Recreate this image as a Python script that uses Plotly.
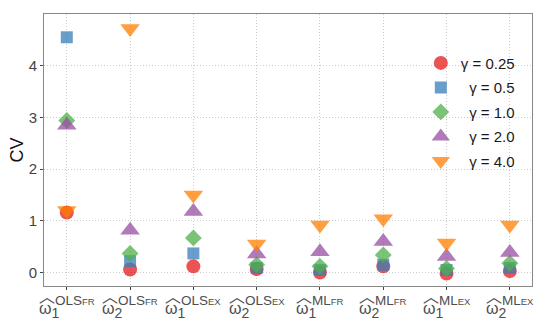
import plotly.graph_objects as go

categories = ["w1_OLS_FR", "w2_OLS_FR", "w1_OLS_EX", "w2_OLS_EX",
              "w1_ML_FR", "w2_ML_FR", "w1_ML_EX", "w2_ML_EX"]
tick_est = ["OLS", "OLS", "OLS", "OLS", "ML", "ML", "ML", "ML"]
tick_sub = ["FR", "FR", "EX", "EX", "FR", "FR", "EX", "EX"]
tick_idx = ["1", "2", "1", "2", "1", "2", "1", "2"]
series_names = ["γ = 0.25", "\u2007γ = 0.5", "\u2007γ = 1.0", "\u2007γ = 2.0", "\u2007γ = 4.0"]
cv_g025 = [1.16, 0.06, 0.12, 0.07, 0.00, 0.12, -0.02, 0.03]
cv_g05 = [4.55, 0.22, 0.37, 0.09, 0.05, 0.15, 0.05, 0.09]
cv_g10 = [2.94, 0.37, 0.67, 0.15, 0.12, 0.34, 0.08, 0.18]
cv_g20 = [2.85, 0.82, 1.18, 0.36, 0.40, 0.60, 0.31, 0.39]
cv_g40 = [1.20, 4.72, 1.50, 0.55, 0.92, 1.04, 0.57, 0.92]
y_ticks = [0, 1, 2, 3, 4]

series_values = [cv_g025, cv_g05, cv_g10, cv_g20, cv_g40]
colors = ["#E41A1C", "#377EB8", "#4DAF4A", "#984EA3", "#FF7F00"]
symbols = ["circle", "square", "diamond", "triangle-up", "triangle-down"]
sizes = [14, 12, 13, 17, 17]

xs = list(range(len(categories)))
fig = go.Figure()
for name, vals, c, s, sz in zip(series_names, series_values, colors, symbols, sizes):
    fig.add_trace(go.Scatter(
        x=xs, y=vals, mode="markers", name=name, legendgroup=name,
        marker=dict(color=c, symbol=s, size=sz, opacity=0.75, line=dict(width=0)),
    ))

font = "Liberation Sans, Arial, sans-serif"
for i, (est, sub, idx) in enumerate(zip(tick_est, tick_sub, tick_idx)):
    txt = (f"<span style='font-family:Noto Sans CJK SC;font-size:16px;baseline-shift:3px'>︿</span>"
           f"<span style='font-size:13.5px'>{est}<span style='font-size:9.5px'>{sub}</span></span>"
           f"<br><span style='font-size:16px'>ω</span>"
           f"<span style='font-size:14px;baseline-shift:-4px'>{idx}</span>")
    fig.add_annotation(x=i, xref="x", y=0, yref="paper", yanchor="top", yshift=5,
                       text=txt, showarrow=False, align="left",
                       font=dict(family=font, size=6.8, color="#4d4d4d"))

fig.update_layout(
    width=550, height=327,
    margin=dict(l=44, r=18, t=14, b=41),
    plot_bgcolor="white", paper_bgcolor="white",
    font=dict(family=font, size=14, color="#444"),
    showlegend=True,
    legend=dict(x=0.975, xanchor="right", y=0.88, yanchor="top",
                bgcolor="rgba(0,0,0,0)", font=dict(size=15, color="#1a1a1a"),
                tracegroupgap=2),
    xaxis=dict(range=[-0.36, 7.35], tickvals=xs, showticklabels=False,
               showgrid=True, gridcolor="#cccccc", griddash="1px,2px", gridwidth=1,
               zeroline=False, showline=True, linecolor="#888", mirror=True,
               ticks="outside", ticklen=3, tickcolor="#444"),
    yaxis=dict(range=[-0.26, 5.0], tickvals=y_ticks,
               showgrid=True, gridcolor="#cccccc", griddash="1px,2px", gridwidth=1,
               zeroline=False, showline=True, linecolor="#888", mirror=True,
               ticks="outside", ticklen=3, tickcolor="#444",
               tickfont=dict(size=15, color="#444"),
               title=dict(text="CV", font=dict(size=18, color="#111"), standoff=0)),
)

fig.write_html("out.html", config={"displayModeBar": False},
               post_script="document.body.style.margin='0';document.body.style.overflow='hidden';")
